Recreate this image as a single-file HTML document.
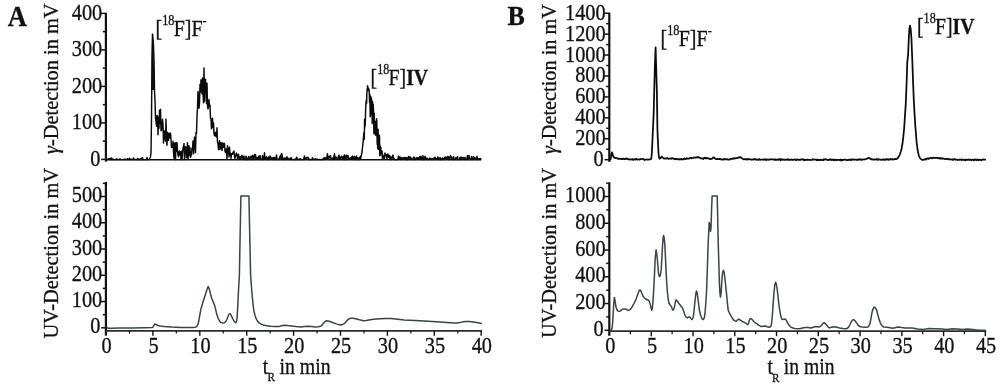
<!DOCTYPE html>
<html><head><meta charset="utf-8"><title>Radio-HPLC chromatograms</title>
<style>
html,body{margin:0;padding:0;background:#fff;}
svg{display:block;}
text{font-family:"Liberation Serif","DejaVu Serif",serif;fill:#111;stroke:#111;stroke-width:0.3px;}
</style></head><body>
<svg width="1000" height="387" viewBox="0 0 1000 387">
<rect width="1000" height="387" fill="#fff"/>
<line x1="105.90" y1="12.80" x2="105.90" y2="161.60" stroke="#111" stroke-width="2.2"/>
<line x1="101.10" y1="159.40" x2="105.40" y2="159.40" stroke="#111" stroke-width="1.5"/>
<text transform="translate(100.30,165.80) scale(0.915,1)" text-anchor="end" font-size="22.2" >0</text>
<line x1="102.80" y1="141.15" x2="105.40" y2="141.15" stroke="#111" stroke-width="1.5"/>
<line x1="101.10" y1="122.90" x2="105.40" y2="122.90" stroke="#111" stroke-width="1.5"/>
<text transform="translate(102.20,129.30) scale(0.915,1)" text-anchor="end" font-size="22.2" >100</text>
<line x1="102.80" y1="104.65" x2="105.40" y2="104.65" stroke="#111" stroke-width="1.5"/>
<line x1="101.10" y1="86.40" x2="105.40" y2="86.40" stroke="#111" stroke-width="1.5"/>
<text transform="translate(102.20,92.80) scale(0.915,1)" text-anchor="end" font-size="22.2" >200</text>
<line x1="102.80" y1="68.15" x2="105.40" y2="68.15" stroke="#111" stroke-width="1.5"/>
<line x1="101.10" y1="49.90" x2="105.40" y2="49.90" stroke="#111" stroke-width="1.5"/>
<text transform="translate(102.20,56.30) scale(0.915,1)" text-anchor="end" font-size="22.2" >300</text>
<line x1="102.80" y1="31.65" x2="105.40" y2="31.65" stroke="#111" stroke-width="1.5"/>
<line x1="101.10" y1="13.40" x2="105.40" y2="13.40" stroke="#111" stroke-width="1.5"/>
<text transform="translate(102.20,19.80) scale(0.915,1)" text-anchor="end" font-size="22.2" >400</text>
<line x1="105.90" y1="181.90" x2="105.90" y2="335.60" stroke="#111" stroke-width="2.2"/>
<line x1="101.10" y1="327.80" x2="105.40" y2="327.80" stroke="#111" stroke-width="1.5"/>
<text transform="translate(100.30,333.30) scale(0.915,1)" text-anchor="end" font-size="22.2" >0</text>
<line x1="102.80" y1="314.67" x2="105.40" y2="314.67" stroke="#111" stroke-width="1.5"/>
<line x1="101.10" y1="301.54" x2="105.40" y2="301.54" stroke="#111" stroke-width="1.5"/>
<text transform="translate(102.20,307.04) scale(0.915,1)" text-anchor="end" font-size="22.2" >100</text>
<line x1="102.80" y1="288.41" x2="105.40" y2="288.41" stroke="#111" stroke-width="1.5"/>
<line x1="101.10" y1="275.28" x2="105.40" y2="275.28" stroke="#111" stroke-width="1.5"/>
<text transform="translate(102.20,280.78) scale(0.915,1)" text-anchor="end" font-size="22.2" >200</text>
<line x1="102.80" y1="262.15" x2="105.40" y2="262.15" stroke="#111" stroke-width="1.5"/>
<line x1="101.10" y1="249.02" x2="105.40" y2="249.02" stroke="#111" stroke-width="1.5"/>
<text transform="translate(102.20,254.52) scale(0.915,1)" text-anchor="end" font-size="22.2" >300</text>
<line x1="102.80" y1="235.89" x2="105.40" y2="235.89" stroke="#111" stroke-width="1.5"/>
<line x1="101.10" y1="222.76" x2="105.40" y2="222.76" stroke="#111" stroke-width="1.5"/>
<text transform="translate(102.20,228.26) scale(0.915,1)" text-anchor="end" font-size="22.2" >400</text>
<line x1="102.80" y1="209.63" x2="105.40" y2="209.63" stroke="#111" stroke-width="1.5"/>
<line x1="101.10" y1="196.50" x2="105.40" y2="196.50" stroke="#111" stroke-width="1.5"/>
<text transform="translate(102.20,202.00) scale(0.915,1)" text-anchor="end" font-size="22.2" >500</text>
<line x1="102.80" y1="183.37" x2="105.40" y2="183.37" stroke="#111" stroke-width="1.5"/>
<line x1="105.90" y1="330.8" x2="481.90" y2="330.8" stroke="#2c2c2c" stroke-width="1.8"/>
<text transform="translate(106.60,352.60) scale(0.915,1)" text-anchor="middle" font-size="22.2" >0</text>
<line x1="129.45" y1="330.80" x2="129.45" y2="333.60" stroke="#111" stroke-width="1.2"/>
<line x1="152.90" y1="330.80" x2="152.90" y2="335.80" stroke="#111" stroke-width="1.4"/>
<text transform="translate(153.50,352.60) scale(0.915,1)" text-anchor="middle" font-size="22.2" >5</text>
<line x1="176.35" y1="330.80" x2="176.35" y2="333.60" stroke="#111" stroke-width="1.2"/>
<line x1="199.80" y1="330.80" x2="199.80" y2="335.80" stroke="#111" stroke-width="1.4"/>
<text transform="translate(200.40,352.60) scale(0.915,1)" text-anchor="middle" font-size="22.2" >10</text>
<line x1="223.25" y1="330.80" x2="223.25" y2="333.60" stroke="#111" stroke-width="1.2"/>
<line x1="246.70" y1="330.80" x2="246.70" y2="335.80" stroke="#111" stroke-width="1.4"/>
<text transform="translate(247.30,352.60) scale(0.915,1)" text-anchor="middle" font-size="22.2" >15</text>
<line x1="270.15" y1="330.80" x2="270.15" y2="333.60" stroke="#111" stroke-width="1.2"/>
<line x1="293.60" y1="330.80" x2="293.60" y2="335.80" stroke="#111" stroke-width="1.4"/>
<text transform="translate(294.20,352.60) scale(0.915,1)" text-anchor="middle" font-size="22.2" >20</text>
<line x1="317.05" y1="330.80" x2="317.05" y2="333.60" stroke="#111" stroke-width="1.2"/>
<line x1="340.50" y1="330.80" x2="340.50" y2="335.80" stroke="#111" stroke-width="1.4"/>
<text transform="translate(341.10,352.60) scale(0.915,1)" text-anchor="middle" font-size="22.2" >25</text>
<line x1="363.95" y1="330.80" x2="363.95" y2="333.60" stroke="#111" stroke-width="1.2"/>
<line x1="387.40" y1="330.80" x2="387.40" y2="335.80" stroke="#111" stroke-width="1.4"/>
<text transform="translate(388.00,352.60) scale(0.915,1)" text-anchor="middle" font-size="22.2" >30</text>
<line x1="410.85" y1="330.80" x2="410.85" y2="333.60" stroke="#111" stroke-width="1.2"/>
<line x1="434.30" y1="330.80" x2="434.30" y2="335.80" stroke="#111" stroke-width="1.4"/>
<text transform="translate(434.90,352.60) scale(0.915,1)" text-anchor="middle" font-size="22.2" >35</text>
<line x1="457.75" y1="330.80" x2="457.75" y2="333.60" stroke="#111" stroke-width="1.2"/>
<line x1="481.20" y1="330.80" x2="481.20" y2="335.80" stroke="#111" stroke-width="1.4"/>
<text transform="translate(481.80,352.60) scale(0.915,1)" text-anchor="middle" font-size="22.2" >40</text>
<line x1="609.30" y1="12.60" x2="609.30" y2="161.80" stroke="#111" stroke-width="2.2"/>
<line x1="604.50" y1="159.70" x2="608.80" y2="159.70" stroke="#111" stroke-width="1.5"/>
<text transform="translate(603.70,166.20) scale(0.915,1)" text-anchor="end" font-size="22.2" >0</text>
<line x1="606.20" y1="149.24" x2="608.80" y2="149.24" stroke="#111" stroke-width="1.5"/>
<line x1="604.50" y1="138.77" x2="608.80" y2="138.77" stroke="#111" stroke-width="1.5"/>
<text transform="translate(605.60,145.27) scale(0.915,1)" text-anchor="end" font-size="22.2" >200</text>
<line x1="606.20" y1="128.31" x2="608.80" y2="128.31" stroke="#111" stroke-width="1.5"/>
<line x1="604.50" y1="117.84" x2="608.80" y2="117.84" stroke="#111" stroke-width="1.5"/>
<text transform="translate(605.60,124.34) scale(0.915,1)" text-anchor="end" font-size="22.2" >400</text>
<line x1="606.20" y1="107.38" x2="608.80" y2="107.38" stroke="#111" stroke-width="1.5"/>
<line x1="604.50" y1="96.91" x2="608.80" y2="96.91" stroke="#111" stroke-width="1.5"/>
<text transform="translate(605.60,103.41) scale(0.915,1)" text-anchor="end" font-size="22.2" >600</text>
<line x1="606.20" y1="86.45" x2="608.80" y2="86.45" stroke="#111" stroke-width="1.5"/>
<line x1="604.50" y1="75.98" x2="608.80" y2="75.98" stroke="#111" stroke-width="1.5"/>
<text transform="translate(605.60,82.48) scale(0.915,1)" text-anchor="end" font-size="22.2" >800</text>
<line x1="606.20" y1="65.52" x2="608.80" y2="65.52" stroke="#111" stroke-width="1.5"/>
<line x1="604.50" y1="55.05" x2="608.80" y2="55.05" stroke="#111" stroke-width="1.5"/>
<text transform="translate(605.60,61.55) scale(0.915,1)" text-anchor="end" font-size="22.2" >1000</text>
<line x1="606.20" y1="44.59" x2="608.80" y2="44.59" stroke="#111" stroke-width="1.5"/>
<line x1="604.50" y1="34.12" x2="608.80" y2="34.12" stroke="#111" stroke-width="1.5"/>
<text transform="translate(605.60,40.62) scale(0.915,1)" text-anchor="end" font-size="22.2" >1200</text>
<line x1="606.20" y1="23.66" x2="608.80" y2="23.66" stroke="#111" stroke-width="1.5"/>
<line x1="604.50" y1="13.19" x2="608.80" y2="13.19" stroke="#111" stroke-width="1.5"/>
<text transform="translate(605.60,19.69) scale(0.915,1)" text-anchor="end" font-size="22.2" >1400</text>
<line x1="609.30" y1="182.30" x2="609.30" y2="335.80" stroke="#111" stroke-width="2.2"/>
<line x1="604.50" y1="330.30" x2="608.80" y2="330.30" stroke="#111" stroke-width="1.5"/>
<text transform="translate(603.70,335.80) scale(0.915,1)" text-anchor="end" font-size="22.2" >0</text>
<line x1="606.20" y1="316.92" x2="608.80" y2="316.92" stroke="#111" stroke-width="1.5"/>
<line x1="604.50" y1="303.54" x2="608.80" y2="303.54" stroke="#111" stroke-width="1.5"/>
<text transform="translate(605.60,309.04) scale(0.915,1)" text-anchor="end" font-size="22.2" >200</text>
<line x1="606.20" y1="290.16" x2="608.80" y2="290.16" stroke="#111" stroke-width="1.5"/>
<line x1="604.50" y1="276.78" x2="608.80" y2="276.78" stroke="#111" stroke-width="1.5"/>
<text transform="translate(605.60,282.28) scale(0.915,1)" text-anchor="end" font-size="22.2" >400</text>
<line x1="606.20" y1="263.40" x2="608.80" y2="263.40" stroke="#111" stroke-width="1.5"/>
<line x1="604.50" y1="250.02" x2="608.80" y2="250.02" stroke="#111" stroke-width="1.5"/>
<text transform="translate(605.60,255.52) scale(0.915,1)" text-anchor="end" font-size="22.2" >600</text>
<line x1="606.20" y1="236.64" x2="608.80" y2="236.64" stroke="#111" stroke-width="1.5"/>
<line x1="604.50" y1="223.26" x2="608.80" y2="223.26" stroke="#111" stroke-width="1.5"/>
<text transform="translate(605.60,228.76) scale(0.915,1)" text-anchor="end" font-size="22.2" >800</text>
<line x1="606.20" y1="209.88" x2="608.80" y2="209.88" stroke="#111" stroke-width="1.5"/>
<line x1="604.50" y1="196.50" x2="608.80" y2="196.50" stroke="#111" stroke-width="1.5"/>
<text transform="translate(605.60,202.00) scale(0.915,1)" text-anchor="end" font-size="22.2" >1000</text>
<line x1="606.20" y1="183.12" x2="608.80" y2="183.12" stroke="#111" stroke-width="1.5"/>
<line x1="609.30" y1="331.2" x2="986.20" y2="331.2" stroke="#2c2c2c" stroke-width="1.8"/>
<text transform="translate(610.20,353.20) scale(0.915,1)" text-anchor="middle" font-size="22.2" >0</text>
<line x1="630.38" y1="331.20" x2="630.38" y2="334.20" stroke="#111" stroke-width="1.2"/>
<line x1="651.26" y1="331.20" x2="651.26" y2="336.20" stroke="#111" stroke-width="1.4"/>
<text transform="translate(651.96,353.20) scale(0.915,1)" text-anchor="middle" font-size="22.2" >5</text>
<line x1="672.14" y1="331.20" x2="672.14" y2="334.20" stroke="#111" stroke-width="1.2"/>
<line x1="693.02" y1="331.20" x2="693.02" y2="336.20" stroke="#111" stroke-width="1.4"/>
<text transform="translate(693.72,353.20) scale(0.915,1)" text-anchor="middle" font-size="22.2" >10</text>
<line x1="713.90" y1="331.20" x2="713.90" y2="334.20" stroke="#111" stroke-width="1.2"/>
<line x1="734.78" y1="331.20" x2="734.78" y2="336.20" stroke="#111" stroke-width="1.4"/>
<text transform="translate(735.48,353.20) scale(0.915,1)" text-anchor="middle" font-size="22.2" >15</text>
<line x1="755.66" y1="331.20" x2="755.66" y2="334.20" stroke="#111" stroke-width="1.2"/>
<line x1="776.54" y1="331.20" x2="776.54" y2="336.20" stroke="#111" stroke-width="1.4"/>
<text transform="translate(777.24,353.20) scale(0.915,1)" text-anchor="middle" font-size="22.2" >20</text>
<line x1="797.42" y1="331.20" x2="797.42" y2="334.20" stroke="#111" stroke-width="1.2"/>
<line x1="818.30" y1="331.20" x2="818.30" y2="336.20" stroke="#111" stroke-width="1.4"/>
<text transform="translate(819.00,353.20) scale(0.915,1)" text-anchor="middle" font-size="22.2" >25</text>
<line x1="839.18" y1="331.20" x2="839.18" y2="334.20" stroke="#111" stroke-width="1.2"/>
<line x1="860.06" y1="331.20" x2="860.06" y2="336.20" stroke="#111" stroke-width="1.4"/>
<text transform="translate(860.76,353.20) scale(0.915,1)" text-anchor="middle" font-size="22.2" >30</text>
<line x1="880.94" y1="331.20" x2="880.94" y2="334.20" stroke="#111" stroke-width="1.2"/>
<line x1="901.82" y1="331.20" x2="901.82" y2="336.20" stroke="#111" stroke-width="1.4"/>
<text transform="translate(902.52,353.20) scale(0.915,1)" text-anchor="middle" font-size="22.2" >35</text>
<line x1="922.70" y1="331.20" x2="922.70" y2="334.20" stroke="#111" stroke-width="1.2"/>
<line x1="943.58" y1="331.20" x2="943.58" y2="336.20" stroke="#111" stroke-width="1.4"/>
<text transform="translate(944.28,353.20) scale(0.915,1)" text-anchor="middle" font-size="22.2" >40</text>
<line x1="964.46" y1="331.20" x2="964.46" y2="334.20" stroke="#111" stroke-width="1.2"/>
<line x1="985.34" y1="331.20" x2="985.34" y2="336.20" stroke="#111" stroke-width="1.4"/>
<text transform="translate(986.04,353.20) scale(0.915,1)" text-anchor="middle" font-size="22.2" >45</text>
<polygon points="151.8,70 152.4,33.6 153.3,47 154.2,70 154.5,90 152.0,90" fill="#151515"/>
<line x1="106.5" y1="159.75" x2="481.4" y2="159.75" stroke="#0a0a0a" stroke-width="1.5"/>
<polyline points="106.5,159.6 107.0,159.3 107.5,159.5 108.0,159.3 108.5,158.6 109.0,159.5 109.5,159.6 110.0,158.3 110.5,159.6 111.0,159.6 111.5,157.9 112.0,159.6 112.5,159.6 113.0,159.0 113.5,159.6 114.0,159.6 114.5,159.6 115.0,159.6 115.5,159.6 116.0,159.2 116.5,159.0 117.0,158.9 117.5,159.6 118.0,159.6 118.5,159.6 119.0,159.5 119.5,159.1 120.0,159.6 120.5,159.1 121.0,159.6 121.5,159.6 122.0,159.6 122.5,159.6 123.0,159.6 123.5,159.6 124.0,159.5 124.5,159.6 125.0,159.1 125.5,159.2 126.0,159.6 126.5,159.6 127.0,159.6 127.5,158.7 128.0,159.6 128.5,159.6 129.0,159.6 129.5,158.3 130.0,158.8 130.5,159.6 131.0,159.2 131.5,159.2 132.0,159.6 132.5,159.6 133.0,159.6 133.5,158.0 134.0,158.8 134.5,159.5 135.0,159.5 135.5,159.6 136.0,159.6 136.5,159.6 137.0,159.6 137.5,158.4 138.0,159.6 138.5,159.6 139.0,159.0 139.5,159.6 140.0,159.6 140.5,158.8 141.0,159.6 141.5,157.9 142.0,159.6 142.5,157.7 143.0,159.6 143.5,159.6 144.0,159.6 144.5,159.6 145.0,159.6 145.5,159.6 146.0,159.6 146.5,159.6 147.0,157.5 147.5,159.6 148.0,159.6 148.5,159.6 149.0,159.6 149.5,158.7 150.0,158.1 150.5,156.7 151.0,152.5 151.5,119.6 152.0,54.3 152.5,34.1 153.0,38.6 153.5,46.1 154.0,60.6 154.5,91.6 155.0,100.4 155.5,118.5 156.0,121.4 156.5,126.2 157.0,115.5 157.5,116.3 158.0,134.8 158.5,117.4 159.0,128.3 159.5,110.2 160.0,123.2 160.5,109.2 161.0,130.8 161.5,130.2 162.0,125.5 162.5,119.3 163.0,124.9 163.5,143.0 164.0,130.5 164.5,132.9 165.0,138.2 165.5,141.0 166.0,119.1 166.5,140.2 167.0,145.3 167.5,132.1 168.0,137.6 168.5,140.3 169.0,133.3 169.5,136.3 170.0,137.9 170.5,133.1 171.0,139.4 171.5,147.4 172.0,145.6 172.5,147.1 173.0,141.3 173.5,152.0 174.0,158.3 174.5,142.9 175.0,154.8 175.5,159.6 176.0,142.5 176.5,151.2 177.0,142.8 177.5,150.8 178.0,155.5 178.5,156.7 179.0,152.1 179.5,151.0 180.0,155.0 180.5,152.0 181.0,159.6 181.5,151.3 182.0,159.6 182.5,153.0 183.0,148.3 183.5,146.5 184.0,143.5 184.5,159.6 185.0,149.2 185.5,146.7 186.0,147.8 186.5,157.7 187.0,150.6 187.5,142.8 188.0,159.6 188.5,149.7 189.0,145.7 189.5,155.6 190.0,147.9 190.5,157.3 191.0,155.5 191.5,155.0 192.0,147.9 192.5,149.0 193.0,141.0 193.5,153.7 194.0,146.8 194.5,137.1 195.0,138.8 195.5,152.6 196.0,132.4 196.5,133.5 197.0,116.4 197.5,108.0 198.0,91.5 198.5,94.9 199.0,108.3 199.5,103.1 200.0,84.5 200.5,92.0 201.0,79.7 201.5,86.1 202.0,93.8 202.5,78.0 203.0,93.1 203.5,102.8 204.0,68.0 204.5,101.6 205.0,81.1 205.5,79.2 206.0,86.4 206.5,103.6 207.0,83.2 207.5,105.6 208.0,109.0 208.5,105.2 209.0,99.6 209.5,106.5 210.0,105.2 210.5,118.4 211.0,119.0 211.5,128.9 212.0,123.9 212.5,118.2 213.0,127.5 213.5,122.9 214.0,133.5 214.5,135.5 215.0,132.4 215.5,136.1 216.0,132.3 216.5,136.8 217.0,127.7 217.5,142.2 218.0,143.6 218.5,149.8 219.0,144.0 219.5,140.8 220.0,149.5 220.5,146.2 221.0,142.5 221.5,147.7 222.0,150.3 222.5,143.0 223.0,147.8 223.5,146.6 224.0,143.2 224.5,143.8 225.0,151.3 225.5,152.4 226.0,149.0 226.5,151.2 227.0,159.3 227.5,145.6 228.0,151.4 228.5,148.6 229.0,156.9 229.5,147.1 230.0,154.9 230.5,153.2 231.0,158.4 231.5,153.8 232.0,154.3 232.5,154.3 233.0,152.2 233.5,153.8 234.0,151.0 234.5,156.3 235.0,158.4 235.5,155.7 236.0,154.3 236.5,153.1 237.0,154.7 237.5,159.6 238.0,156.6 238.5,154.3 239.0,157.4 239.5,158.7 240.0,157.0 240.5,158.7 241.0,156.5 241.5,157.9 242.0,155.2 242.5,156.9 243.0,159.3 243.5,156.7 244.0,156.1 244.5,159.0 245.0,158.7 245.5,159.6 246.0,156.2 246.5,159.1 247.0,159.6 247.5,159.6 248.0,158.4 248.5,156.5 249.0,158.1 249.5,157.0 250.0,159.6 250.5,159.6 251.0,156.2 251.5,157.0 252.0,158.0 252.5,155.5 253.0,159.6 253.5,158.8 254.0,156.0 254.5,154.4 255.0,158.0 255.5,154.8 256.0,159.1 256.5,157.4 257.0,158.3 257.5,159.6 258.0,157.5 258.5,156.2 259.0,158.3 259.5,158.1 260.0,155.4 260.5,159.6 261.0,159.6 261.5,159.2 262.0,159.6 262.5,155.5 263.0,157.4 263.5,159.6 264.0,159.2 264.5,152.7 265.0,159.2 265.5,159.5 266.0,157.5 266.5,156.9 267.0,157.6 267.5,159.6 268.0,159.6 268.5,157.0 269.0,158.2 269.5,159.6 270.0,155.9 270.5,156.7 271.0,158.5 271.5,158.6 272.0,157.7 272.5,159.4 273.0,159.6 273.5,157.5 274.0,159.6 274.5,157.4 275.0,159.6 275.5,158.3 276.0,158.4 276.5,154.9 277.0,159.6 277.5,159.6 278.0,159.3 278.5,159.6 279.0,159.2 279.5,157.4 280.0,156.8 280.5,155.2 281.0,159.5 281.5,153.4 282.0,154.6 282.5,158.5 283.0,159.6 283.5,158.3 284.0,158.1 284.5,159.6 285.0,158.1 285.5,158.6 286.0,159.6 286.5,157.4 287.0,156.8 287.5,159.3 288.0,158.2 288.5,159.6 289.0,159.6 289.5,159.6 290.0,158.3 290.5,159.6 291.0,157.8 291.5,158.3 292.0,159.6 292.5,159.6 293.0,159.6 293.5,159.6 294.0,159.3 294.5,159.5 295.0,159.3 295.5,159.4 296.0,159.6 296.5,157.2 297.0,158.0 297.5,159.6 298.0,159.6 298.5,159.6 299.0,158.9 299.5,159.5 300.0,159.3 300.5,158.8 301.0,159.6 301.5,159.4 302.0,159.6 302.5,159.6 303.0,159.6 303.5,159.6 304.0,158.1 304.5,155.9 305.0,159.6 305.5,158.2 306.0,158.7 306.5,157.8 307.0,157.4 307.5,157.7 308.0,157.2 308.5,159.6 309.0,159.6 309.5,159.1 310.0,159.6 310.5,159.6 311.0,159.6 311.5,159.6 312.0,159.3 312.5,157.7 313.0,159.6 313.5,159.6 314.0,159.4 314.5,159.6 315.0,158.8 315.5,158.8 316.0,159.6 316.5,159.6 317.0,158.9 317.5,159.4 318.0,159.6 318.5,159.6 319.0,159.6 319.5,159.5 320.0,159.6 320.5,159.6 321.0,159.4 321.5,159.5 322.0,159.6 322.5,159.6 323.0,159.6 323.5,158.1 324.0,159.6 324.5,157.7 325.0,157.9 325.5,157.8 326.0,158.9 326.5,158.9 327.0,156.5 327.5,153.7 328.0,159.5 328.5,156.7 329.0,158.5 329.5,156.2 330.0,156.9 330.5,155.6 331.0,159.6 331.5,159.0 332.0,159.6 332.5,157.9 333.0,159.2 333.5,159.0 334.0,156.2 334.5,153.7 335.0,159.6 335.5,158.3 336.0,157.0 336.5,157.6 337.0,158.3 337.5,159.6 338.0,159.6 338.5,156.0 339.0,155.2 339.5,157.3 340.0,159.3 340.5,157.3 341.0,158.0 341.5,156.3 342.0,157.2 342.5,158.8 343.0,157.0 343.5,159.6 344.0,155.6 344.5,154.8 345.0,159.6 345.5,156.5 346.0,159.6 346.5,155.2 347.0,155.6 347.5,158.1 348.0,155.6 348.5,158.6 349.0,159.1 349.5,158.9 350.0,158.1 350.5,158.5 351.0,157.6 351.5,159.1 352.0,156.5 352.5,156.1 353.0,159.0 353.5,159.6 354.0,156.9 354.5,156.3 355.0,158.6 355.5,159.6 356.0,158.0 356.5,156.0 357.0,159.6 357.5,157.8 358.0,159.1 358.5,159.6 359.0,157.7 359.5,159.6 360.0,158.0 360.3,156.3 360.7,158.2 361.0,157.0 361.3,155.9 361.6,154.0 362.0,152.0 362.3,149.5 362.6,146.2 363.0,142.9 363.3,139.4 363.6,135.8 364.0,132.2 364.3,139.2 364.6,119.2 364.9,127.1 365.3,123.5 365.6,110.3 365.9,103.9 366.3,100.1 366.6,103.6 366.9,92.5 367.3,88.6 367.6,85.8 367.9,87.1 368.2,90.5 368.6,88.5 368.9,89.0 369.2,91.4 369.6,102.4 369.9,94.2 370.2,116.7 370.6,114.3 370.9,96.7 371.2,108.9 371.5,98.3 371.9,102.8 372.2,123.5 372.5,101.8 372.9,104.3 373.2,105.1 373.5,110.2 373.9,133.7 374.2,113.0 374.5,130.5 374.8,127.5 375.2,133.0 375.5,135.1 375.8,121.2 376.2,135.5 376.5,118.7 376.8,120.9 377.2,144.5 377.5,133.5 377.8,148.7 378.1,129.3 378.5,149.6 378.8,142.4 379.1,135.0 379.5,136.2 379.8,155.8 380.1,145.6 380.5,155.1 380.8,147.4 381.1,153.2 381.4,151.8 381.8,152.0 382.1,151.1 382.4,158.8 382.8,158.8 383.1,155.1 383.4,157.3 383.8,157.3 384.0,157.5 384.5,158.4 385.0,152.9 385.5,155.3 386.0,154.5 386.5,156.7 387.0,158.7 387.5,154.9 388.0,153.9 388.5,156.3 389.0,157.7 389.5,155.5 390.0,158.5 390.5,156.4 391.0,159.3 391.5,159.6 392.0,157.1 392.5,157.6 393.0,155.0 393.5,158.8 394.0,158.4 394.5,159.6 395.0,159.6 395.5,159.6 396.0,159.6 396.5,159.6 397.0,159.6 397.5,159.1 398.0,159.1 398.5,156.3 399.0,158.3 399.5,157.0 400.0,158.9 400.5,157.2 401.0,159.6 401.5,157.7 402.0,159.3 402.5,158.8 403.0,157.7 403.5,158.3 404.0,158.7 404.5,157.5 405.0,157.4 405.5,159.6 406.0,157.8 406.5,157.6 407.0,159.6 407.5,158.0 408.0,159.6 408.5,156.5 409.0,159.0 409.5,158.7 410.0,156.8 410.5,158.8 411.0,157.7 411.5,159.6 412.0,159.5 412.5,159.6 413.0,158.9 413.5,157.1 414.0,158.3 414.5,157.3 415.0,159.6 415.5,159.6 416.0,159.3 416.5,157.8 417.0,158.1 417.5,158.6 418.0,157.7 418.5,158.8 419.0,158.7 419.5,156.7 420.0,159.5 420.5,158.4 421.0,156.2 421.5,158.5 422.0,157.6 422.5,159.5 423.0,155.7 423.5,159.6 424.0,159.6 424.5,159.6 425.0,156.2 425.5,158.1 426.0,159.0 426.5,159.6 427.0,158.1 427.5,158.5 428.0,159.6 428.5,159.6 429.0,159.6 429.5,158.3 430.0,158.2 430.5,158.5 431.0,158.9 431.5,159.6 432.0,158.6 432.5,159.6 433.0,158.6 433.5,158.0 434.0,159.6 434.5,159.6 435.0,157.2 435.5,158.1 436.0,159.6 436.5,159.6 437.0,158.7 437.5,157.7 438.0,157.0 438.5,159.6 439.0,159.6 439.5,159.3 440.0,157.4 440.5,159.6 441.0,158.8 441.5,159.6 442.0,158.3 442.5,159.6 443.0,158.1 443.5,159.4 444.0,159.0 444.5,157.9 445.0,157.0 445.5,159.6 446.0,157.2 446.5,157.8 447.0,159.1 447.5,156.6 448.0,158.4 448.5,156.8 449.0,159.5 449.5,159.6 450.0,156.9 450.5,155.5 451.0,157.7 451.5,157.3 452.0,159.3 452.5,159.6 453.0,159.0 453.5,156.5 454.0,159.6 454.5,159.4 455.0,159.6 455.5,158.5 456.0,157.4 456.5,159.6 457.0,159.2 457.5,156.7 458.0,158.8 458.5,159.6 459.0,159.6 459.5,159.6 460.0,157.5 460.5,159.6 461.0,157.1 461.5,157.4 462.0,159.6 462.5,159.4 463.0,157.5 463.5,158.4 464.0,158.3 464.5,159.6 465.0,157.3 465.5,159.6 466.0,159.6 466.5,159.6 467.0,158.0 467.5,155.6 468.0,159.2 468.5,159.6 469.0,155.5 469.5,158.4 470.0,159.0 470.5,159.6 471.0,159.6 471.5,156.5 472.0,159.0 472.5,159.4 473.0,159.4 473.5,156.4 474.0,159.5 474.5,157.7 475.0,158.3 475.5,158.3 476.0,159.6 476.5,157.7 477.0,156.3 477.5,158.7 478.0,159.6 478.5,159.6 479.0,158.4 479.5,159.0 480.0,158.8 480.5,158.6 481.0,159.6" fill="none" stroke="#0a0a0a" stroke-width="1.45" stroke-linejoin="round" stroke-linecap="butt" stroke-linejoin="miter"/>
<polyline points="106.4,327.1 108.5,328.3 111.2,328.2 120.0,328.1 132.0,327.9 145.0,327.7 152.1,327.6 153.2,326.8 154.0,325.2 155.0,324.0 156.0,324.4 157.7,325.5 160.0,326.1 164.1,326.6 172.0,327.1 180.1,327.4 188.0,327.6 192.9,327.6 195.5,327.2 197.0,326.3 198.0,324.3 198.8,321.0 199.8,315.0 201.0,308.7 203.0,302.0 205.0,295.8 206.8,290.0 208.2,286.5 209.0,288.0 209.8,291.0 211.4,297.4 213.0,301.5 214.6,305.4 216.0,311.0 217.0,315.1 218.2,318.6 219.4,320.7 220.8,322.4 222.6,323.1 224.4,322.7 225.8,321.5 227.0,319.0 228.2,315.9 229.1,314.0 229.8,313.5 230.6,314.2 231.4,315.9 232.6,318.5 233.8,320.7 235.0,322.4 235.9,322.8 236.5,321.5 237.0,318.3 237.6,309.0 238.1,299.0 238.8,285.0 239.4,275.0 239.9,247.0 240.9,195.9 248.9,195.9 250.0,247.0 250.6,275.0 251.4,286.0 252.2,295.8 253.0,304.0 253.8,310.3 255.0,315.5 256.2,318.9 257.7,321.4 259.4,323.1 261.5,324.4 264.2,325.2 267.0,325.8 270.6,326.3 275.0,326.5 278.7,326.6 281.5,325.8 284.3,325.2 287.5,325.5 291.5,326.0 296.0,326.5 301.1,326.9 304.5,326.6 307.5,326.3 311.5,326.6 315.5,326.9 318.5,326.7 321.1,326.0 322.7,324.3 324.3,322.3 325.5,321.2 326.7,320.7 328.2,320.9 329.9,321.5 333.0,322.7 336.3,323.9 338.5,324.6 340.4,325.0 342.5,324.6 344.4,323.6 346.0,321.8 347.6,319.9 349.2,318.7 350.8,318.3 353.0,318.3 355.6,318.8 359.5,319.8 363.6,320.7 366.0,320.6 369.0,319.9 373.2,319.3 380.0,318.7 386.0,318.4 391.0,318.6 395.6,319.1 404.1,319.9 420.1,320.8 436.2,321.8 450.6,322.8 454.0,323.0 457.0,323.1 460.0,322.6 462.5,321.9 465.0,321.5 467.5,321.5 469.8,321.6 475.0,322.3 481.8,323.4" fill="none" stroke="#3a4446" stroke-width="1.5" stroke-linejoin="round" stroke-linecap="butt" />
<polyline points="609.9,160.3 610.6,159.0 611.3,154.5 612.0,152.3 612.7,154.5 613.6,157.1 614.2,157.6 614.9,157.5 615.5,158.1 616.1,158.0 616.7,158.0 617.4,158.6 618.0,158.5 618.6,158.9 619.2,158.7 619.8,158.8 620.4,158.8 620.9,158.9 621.5,159.1 622.1,158.7 622.7,159.2 623.3,159.0 623.8,158.5 624.4,159.1 625.0,159.2 625.6,158.6 626.2,158.9 626.8,158.5 627.3,158.9 627.9,159.2 628.5,159.1 629.1,159.6 629.7,159.3 630.2,159.3 630.8,159.3 631.4,159.5 632.0,159.5 632.6,159.1 633.1,159.8 633.7,159.8 634.3,159.1 634.9,159.3 635.4,159.6 636.0,159.1 636.6,158.9 637.1,159.7 637.7,159.3 638.3,159.3 638.9,159.3 639.4,159.7 640.0,159.4 640.6,158.9 641.1,159.2 641.7,159.2 642.3,159.0 642.9,158.9 643.4,159.1 644.0,159.5 644.6,160.0 645.1,159.6 645.7,159.5 646.3,159.5 646.8,159.4 647.4,159.6 648.0,159.6 648.6,159.6 649.1,159.3 649.7,159.5 650.6,159.3 651.3,158.7 651.9,152.0 652.6,137.0 653.2,124.0 653.7,113.0 654.2,92.0 654.9,65.0 655.6,47.3 656.1,65.0 656.9,92.0 657.4,129.0 658.0,143.0 658.5,153.0 659.0,157.0 659.6,158.7 660.6,158.3 661.7,156.6 662.8,157.6 664.1,158.7 664.7,158.6 665.3,158.3 665.8,158.3 666.4,158.7 667.0,158.2 667.6,158.1 668.2,158.8 668.8,158.9 669.3,158.5 669.9,158.5 670.5,158.4 671.0,158.7 671.6,158.8 672.1,158.2 672.7,158.4 673.2,158.3 673.8,158.8 674.4,159.0 674.9,158.9 675.5,159.3 676.0,159.0 676.6,159.3 677.1,159.0 677.7,158.9 678.2,159.0 678.8,159.7 679.4,159.2 679.9,159.1 680.5,159.3 681.1,158.8 681.6,159.3 682.2,159.2 682.7,159.3 683.3,159.2 683.9,159.3 684.5,158.3 685.1,158.8 685.6,159.1 686.2,158.9 686.8,158.2 687.4,158.7 688.0,158.6 688.6,158.7 689.1,158.7 689.7,158.5 690.2,157.8 690.8,157.9 691.3,157.7 691.9,158.4 692.4,158.0 693.0,157.9 693.6,157.6 694.2,157.6 694.8,157.5 695.4,157.7 696.0,157.4 696.6,157.5 697.3,157.1 698.0,157.5 698.6,157.1 700.6,158.3 701.3,158.4 701.9,158.4 702.6,158.7 703.3,159.0 703.9,157.9 704.6,158.2 705.3,157.7 705.9,158.5 706.6,157.9 707.3,158.2 707.9,158.3 708.6,158.6 709.3,158.5 709.9,158.9 710.6,159.2 711.2,158.8 711.9,158.6 712.5,158.4 713.3,157.4 714.1,157.6 715.2,158.5 716.2,159.2 716.8,159.2 717.4,158.8 717.9,159.2 718.5,159.2 719.1,159.1 719.7,158.8 720.3,159.4 720.8,159.1 721.4,159.4 722.0,159.3 722.6,159.6 723.1,159.8 723.7,159.1 724.3,158.8 724.8,159.4 725.4,159.3 725.9,159.1 726.5,159.3 727.1,159.5 727.6,159.2 728.2,159.5 728.8,159.5 729.5,159.5 730.1,159.1 730.7,159.4 731.4,158.9 732.0,158.9 732.6,158.5 733.2,158.8 733.8,158.4 734.4,158.1 735.0,158.5 735.6,158.4 736.2,158.2 736.9,158.0 737.6,158.0 738.3,157.6 738.9,157.3 739.6,157.5 740.2,157.1 741.8,158.1 743.4,159.2 743.9,159.4 744.5,159.1 745.0,159.0 745.6,159.1 746.1,159.5 746.7,159.0 747.2,159.0 747.8,159.5 748.4,159.3 748.9,159.0 749.5,159.2 750.0,159.4 750.6,159.4 751.1,159.5 751.7,159.8 752.2,159.7 752.8,159.7 753.3,159.4 753.9,159.1 754.4,159.4 755.0,159.0 755.6,159.5 756.1,159.8 756.7,159.6 757.2,159.5 757.8,159.3 758.3,160.0 758.9,159.8 759.4,159.1 760.0,159.5 760.6,159.8 761.1,159.7 761.7,159.5 762.2,159.5 762.8,159.5 763.3,159.8 763.9,159.4 764.4,159.6 765.0,159.6 765.6,159.2 766.1,160.2 766.7,159.5 767.2,159.6 767.8,159.4 768.3,159.9 768.9,159.4 769.4,159.7 770.0,159.5 770.6,159.3 771.1,159.2 771.7,159.4 772.2,159.5 772.8,159.3 773.3,159.4 773.9,159.7 774.4,159.9 775.0,159.2 775.6,159.8 776.1,159.8 776.7,159.6 777.2,159.8 777.8,159.5 778.3,159.9 778.9,159.5 779.4,159.2 780.0,159.1 780.6,160.3 781.1,159.2 781.7,159.1 782.2,159.6 782.8,159.8 783.3,159.7 783.9,159.7 784.4,159.9 785.0,159.6 785.6,159.7 786.1,159.8 786.7,159.7 787.2,159.3 787.8,159.8 788.3,159.2 788.9,159.9 789.4,159.7 790.0,160.1 790.6,159.7 791.1,159.7 791.7,159.4 792.2,159.8 792.8,159.8 793.3,159.8 793.9,159.6 794.4,159.6 795.0,159.4 795.6,159.5 796.1,160.4 796.7,159.8 797.2,159.4 797.8,159.4 798.3,159.8 798.9,160.0 799.4,159.8 800.0,159.7 800.6,159.9 801.1,159.7 801.7,159.1 802.2,159.4 802.8,159.5 803.3,159.4 803.9,160.2 804.4,159.6 805.0,160.2 805.6,159.7 806.1,160.0 806.7,159.7 807.2,159.9 807.8,159.6 808.3,159.8 808.9,159.8 809.4,159.9 810.0,159.9 810.6,159.8 811.1,160.1 811.7,160.0 812.2,159.6 812.8,159.0 813.3,159.7 813.9,159.5 814.4,159.5 815.0,159.6 815.6,159.7 816.1,159.6 816.7,160.3 817.2,159.6 817.8,160.0 818.3,159.6 818.9,160.1 819.4,160.1 820.0,159.6 820.6,160.1 821.1,159.7 821.7,160.0 822.2,160.0 822.8,159.8 823.3,160.2 823.9,159.1 824.4,159.5 825.0,159.7 825.6,159.1 826.1,159.5 826.7,159.6 827.2,160.0 827.8,160.2 828.3,159.8 828.9,159.8 829.4,159.8 830.0,159.4 830.6,159.2 831.1,160.1 831.7,159.8 832.2,159.7 832.8,159.9 833.3,160.0 833.9,159.5 834.4,160.3 835.0,159.8 835.6,159.6 836.1,160.2 836.7,160.1 837.2,159.8 837.8,159.8 838.3,159.8 838.9,160.0 839.4,160.1 840.0,159.8 840.6,159.5 841.1,160.6 841.7,159.9 842.2,160.1 842.8,159.9 843.3,160.1 843.9,159.7 844.4,159.6 845.0,159.6 845.6,159.7 846.1,160.0 846.7,160.0 847.2,160.3 847.8,159.9 848.3,160.1 848.9,159.5 849.4,159.6 850.0,159.8 850.6,159.9 851.1,160.2 851.7,159.2 852.2,159.7 852.8,159.7 853.3,159.8 853.9,159.5 854.4,159.7 855.0,159.6 855.6,159.6 856.1,159.6 856.7,159.9 857.2,159.7 857.8,160.0 858.3,159.3 858.9,159.7 859.4,159.3 860.0,159.7 860.6,159.4 861.1,159.4 861.7,160.0 862.3,159.6 862.9,159.5 863.4,159.4 864.0,159.5 864.6,159.4 865.2,159.4 865.9,159.0 866.5,158.8 867.1,158.7 867.6,158.5 868.2,157.8 868.8,158.2 869.6,158.1 870.4,158.9 871.2,159.1 872.0,159.5 872.6,159.4 873.1,159.6 873.7,159.7 874.3,159.3 874.9,159.7 875.4,159.4 876.0,159.5 876.6,159.1 877.1,159.5 877.7,159.9 878.3,159.0 878.9,159.4 879.4,159.5 880.0,159.5 880.6,159.5 881.1,159.9 881.7,159.7 882.2,159.4 882.8,159.8 883.3,159.3 883.9,159.3 884.4,159.8 885.0,159.9 885.6,159.6 886.1,159.1 886.7,159.0 887.2,159.7 887.8,159.7 888.3,159.2 888.9,159.8 889.4,159.3 890.0,159.4 890.6,159.0 891.1,159.4 891.7,159.5 892.2,159.0 892.8,159.6 893.3,159.2 893.9,159.5 894.4,159.4 895.0,158.9 895.5,158.9 896.1,159.2 897.4,158.4 898.5,157.1 899.7,154.8 900.9,151.5 901.7,148.0 902.5,143.5 903.3,137.0 904.1,129.0 904.9,117.0 905.7,105.0 906.5,86.0 907.3,62.0 908.1,55.0 908.8,38.0 909.4,29.0 910.0,25.6 910.7,29.0 911.4,38.0 912.1,55.0 913.0,80.0 913.7,98.0 914.4,111.0 915.3,125.8 916.0,134.5 916.6,141.9 917.4,148.5 918.2,153.1 919.0,156.0 919.8,157.9 921.0,159.2 921.8,159.6 922.5,159.8 923.1,159.6 923.8,159.9 924.4,159.4 925.0,159.3 925.6,158.9 926.2,159.6 926.8,158.7 927.4,158.5 927.9,158.2 928.5,158.8 929.1,158.6 929.7,158.2 930.3,158.0 930.9,157.7 931.5,158.2 932.2,158.4 932.8,157.9 933.4,157.7 934.0,157.9 934.6,157.8 935.2,157.9 935.8,157.9 936.4,157.9 937.0,157.7 937.6,157.8 938.2,158.3 938.8,158.0 939.4,157.9 940.0,158.7 940.5,158.1 941.1,158.1 941.7,158.4 942.3,158.8 942.9,158.5 943.4,158.7 944.0,158.7 944.6,159.2 945.1,159.0 945.7,158.9 946.2,158.7 946.8,159.2 947.3,158.8 947.9,159.0 948.4,159.2 949.0,159.5 949.5,159.1 950.1,159.3 950.6,159.4 951.2,159.4 951.8,159.5 952.3,159.8 952.9,159.3 953.4,159.9 954.0,159.2 954.5,159.2 955.0,159.2 955.6,159.8 956.1,159.5 956.7,159.5 957.2,159.6 957.8,160.0 958.4,160.0 958.9,159.9 959.5,159.6 960.0,159.7 960.6,159.5 961.1,159.7 961.7,160.1 962.2,159.4 962.8,159.7 963.4,160.0 963.9,159.8 964.5,160.0 965.0,159.6 965.6,160.4 966.2,159.5 966.7,159.7 967.3,159.9 967.9,159.8 968.4,159.5 969.0,159.8 969.5,160.1 970.1,159.7 970.7,159.6 971.2,160.0 971.8,160.3 972.3,159.6 972.9,159.6 973.5,160.0 974.0,160.4 974.6,159.5 975.1,159.9 975.7,159.5 976.3,159.5 976.8,160.3 977.4,159.5 977.9,159.4 978.5,160.2 979.1,160.0 979.6,159.7 980.2,159.9 980.8,159.9 981.3,160.4 981.9,159.7 982.4,159.5 983.0,159.8 983.6,159.5 984.1,159.7 984.7,159.6 985.2,159.6 985.8,159.8" fill="none" stroke="#0a0a0a" stroke-width="1.75" stroke-linejoin="round" stroke-linecap="butt" />
<polyline points="609.9,330.3 611.0,330.0 612.0,328.7 612.6,323.0 613.1,315.1 613.8,303.0 614.4,297.4 615.1,301.0 616.0,307.1 617.0,309.8 617.9,311.1 619.0,311.4 620.0,311.1 621.6,309.8 623.2,309.0 624.4,308.9 625.6,309.0 627.2,309.9 628.8,310.3 630.4,309.3 632.0,307.1 634.0,303.3 636.1,299.0 637.7,294.5 639.3,290.2 640.1,290.0 640.9,291.0 642.1,294.0 643.3,296.6 644.5,298.0 645.7,299.0 647.3,299.7 648.9,300.6 649.7,302.6 650.5,305.4 651.2,308.5 651.8,310.3 652.4,307.5 652.9,302.2 653.7,290.0 654.5,274.0 655.2,258.0 656.1,249.8 656.8,254.0 657.4,260.3 658.0,267.0 658.5,273.1 659.1,276.0 659.8,276.6 660.5,274.5 661.2,269.9 661.9,258.0 662.5,245.8 663.1,238.0 663.6,235.4 664.2,238.0 664.9,245.8 665.5,258.0 666.0,269.9 666.6,281.0 667.3,291.0 668.1,298.5 668.9,303.0 670.1,305.0 671.3,306.2 672.1,308.5 672.9,310.3 673.7,309.5 674.5,307.1 675.3,302.0 676.1,299.8 677.2,301.0 678.5,303.0 680.5,305.5 682.5,307.9 683.7,311.3 684.9,315.1 686.1,317.0 687.3,317.9 688.5,317.1 689.7,317.0 690.9,318.5 692.1,319.6 693.0,318.0 693.8,313.5 694.6,305.0 695.4,297.4 696.0,292.5 696.5,291.0 697.1,292.5 697.8,297.4 698.6,304.0 699.4,310.3 700.6,315.2 701.8,318.3 702.6,319.3 703.4,319.6 704.2,318.0 705.0,313.5 705.8,303.0 706.6,291.0 707.3,270.0 708.2,242.0 709.2,222.5 709.9,225.0 710.5,231.3 711.0,228.0 711.5,212.0 712.1,196.0 717.2,196.0 717.7,218.0 718.2,242.0 718.9,265.0 719.4,283.0 719.9,293.0 720.5,297.1 721.1,293.0 721.8,281.0 722.6,272.5 723.4,270.2 724.2,272.5 725.0,279.5 725.8,287.0 726.6,294.2 727.4,303.0 728.2,310.3 729.4,313.0 730.6,315.1 732.2,318.0 733.8,320.2 735.0,321.0 736.2,321.2 737.4,320.0 738.6,319.1 740.2,320.0 741.8,321.2 743.8,322.1 745.8,323.1 746.9,324.0 747.8,324.7 748.6,323.0 749.4,319.9 750.2,318.8 751.0,318.6 752.4,319.8 753.8,321.5 755.4,322.9 757.1,323.9 759.0,325.4 761.2,326.6 763.2,326.2 765.2,326.0 767.2,326.7 769.2,327.2 770.3,326.8 771.2,325.5 771.8,321.5 772.4,315.1 773.2,303.0 774.0,292.6 774.8,285.0 775.6,282.2 776.4,284.5 777.2,289.4 778.0,296.5 778.8,303.8 779.6,309.5 780.4,314.3 781.2,317.5 782.1,319.6 783.7,319.3 785.3,319.1 786.5,320.8 787.7,323.1 789.3,325.5 790.9,327.1 792.9,328.0 794.9,328.4 799.7,328.7 802.5,328.0 805.3,327.4 808.0,327.6 810.9,328.0 813.3,327.2 815.7,326.6 817.5,326.8 819.2,327.1 820.7,326.0 822.1,324.4 823.1,323.2 824.0,322.8 825.0,323.2 826.1,324.4 827.7,326.5 829.3,327.9 831.5,327.3 834.1,326.8 837.0,327.3 839.7,327.9 843.0,328.4 846.2,328.7 847.4,328.2 848.6,327.1 849.8,325.0 851.0,322.3 852.2,320.3 853.4,319.6 854.6,320.3 855.8,321.8 857.4,324.2 859.0,326.0 860.6,326.8 862.2,327.1 865.0,327.2 867.8,327.1 868.9,326.0 869.9,323.9 870.9,319.0 871.8,313.5 872.6,310.3 873.4,308.3 874.1,307.3 874.7,307.1 875.6,308.3 876.6,309.8 877.8,314.5 879.0,319.1 880.2,322.6 881.4,325.0 882.6,326.3 883.8,327.0 887.5,327.3 892.5,328.2 895.0,327.7 898.1,327.1 901.5,327.6 905.0,328.0 912.5,328.1 917.5,329.0 923.1,329.5 926.0,329.1 928.8,328.6 935.0,328.8 942.5,329.1 946.2,329.6 949.0,329.2 951.9,328.8 957.5,329.1 962.5,329.5 965.0,329.2 967.5,328.9 975.0,329.8 980.0,330.2 985.6,330.2" fill="none" stroke="#3a4446" stroke-width="1.5" stroke-linejoin="round" stroke-linecap="butt" />
<text transform="translate(7.80,25.50) scale(0.930,1)" text-anchor="start" font-size="28.5" font-weight="bold">A</text>
<text transform="translate(507.60,24.70) scale(0.980,1)" text-anchor="start" font-size="26.5" font-weight="bold">B</text>
<text transform="translate(262.80,373.80) scale(0.893,1)" text-anchor="start" font-size="22.2" >t<tspan font-size="12.6" dy="7.3" dx="-0.9">R</tspan><tspan dy="-7.3" dx="-0.6"> in min</tspan></text>
<text transform="translate(767.40,374.20) scale(0.885,1)" text-anchor="start" font-size="22.2" >t<tspan font-size="12.6" dy="7.3" dx="-0.9">R</tspan><tspan dy="-7.3" dx="-0.6"> in min</tspan></text>
<text transform="translate(57.6,154.0) rotate(-90)" font-size="20.5" textLength="150.5" lengthAdjust="spacingAndGlyphs"><tspan font-style="italic">γ</tspan>-Detection in mV</text>
<text transform="translate(58.3,338.4) rotate(-90)" font-size="20.5" textLength="170.5" lengthAdjust="spacingAndGlyphs">UV-Detection in mV</text>
<text transform="translate(555.6,154.0) rotate(-90)" font-size="20.5" textLength="150.0" lengthAdjust="spacingAndGlyphs"><tspan font-style="italic">γ</tspan>-Detection in mV</text>
<text transform="translate(555.8,338.0) rotate(-90)" font-size="20.5" textLength="170.0" lengthAdjust="spacingAndGlyphs">UV-Detection in mV</text>
<text transform="translate(155.50,36.00) scale(0.885,1)" text-anchor="start" font-size="22.6" >[<tspan font-size="13.8" dy="-11.2">18</tspan><tspan dy="11.2" dx="-0.8">F]F</tspan><tspan font-size="13.8" dy="-11.2">-</tspan></text>
<text transform="translate(370.60,85.40) scale(0.876,1)" text-anchor="start" font-size="22.6" >[<tspan font-size="13.8" dy="-11.2">18</tspan><tspan dy="11.2" dx="-0.8">F]</tspan><tspan font-weight="bold">IV</tspan></text>
<text transform="translate(660.60,46.00) scale(0.885,1)" text-anchor="start" font-size="22.6" >[<tspan font-size="13.8" dy="-11.2">18</tspan><tspan dy="11.2" dx="-0.8">F]F</tspan><tspan font-size="13.8" dy="-11.2">-</tspan></text>
<text transform="translate(917.00,33.70) scale(0.876,1)" text-anchor="start" font-size="22.6" >[<tspan font-size="13.8" dy="-11.2">18</tspan><tspan dy="11.2" dx="-0.8">F]</tspan><tspan font-weight="bold">IV</tspan></text>
</svg>
</body></html>
